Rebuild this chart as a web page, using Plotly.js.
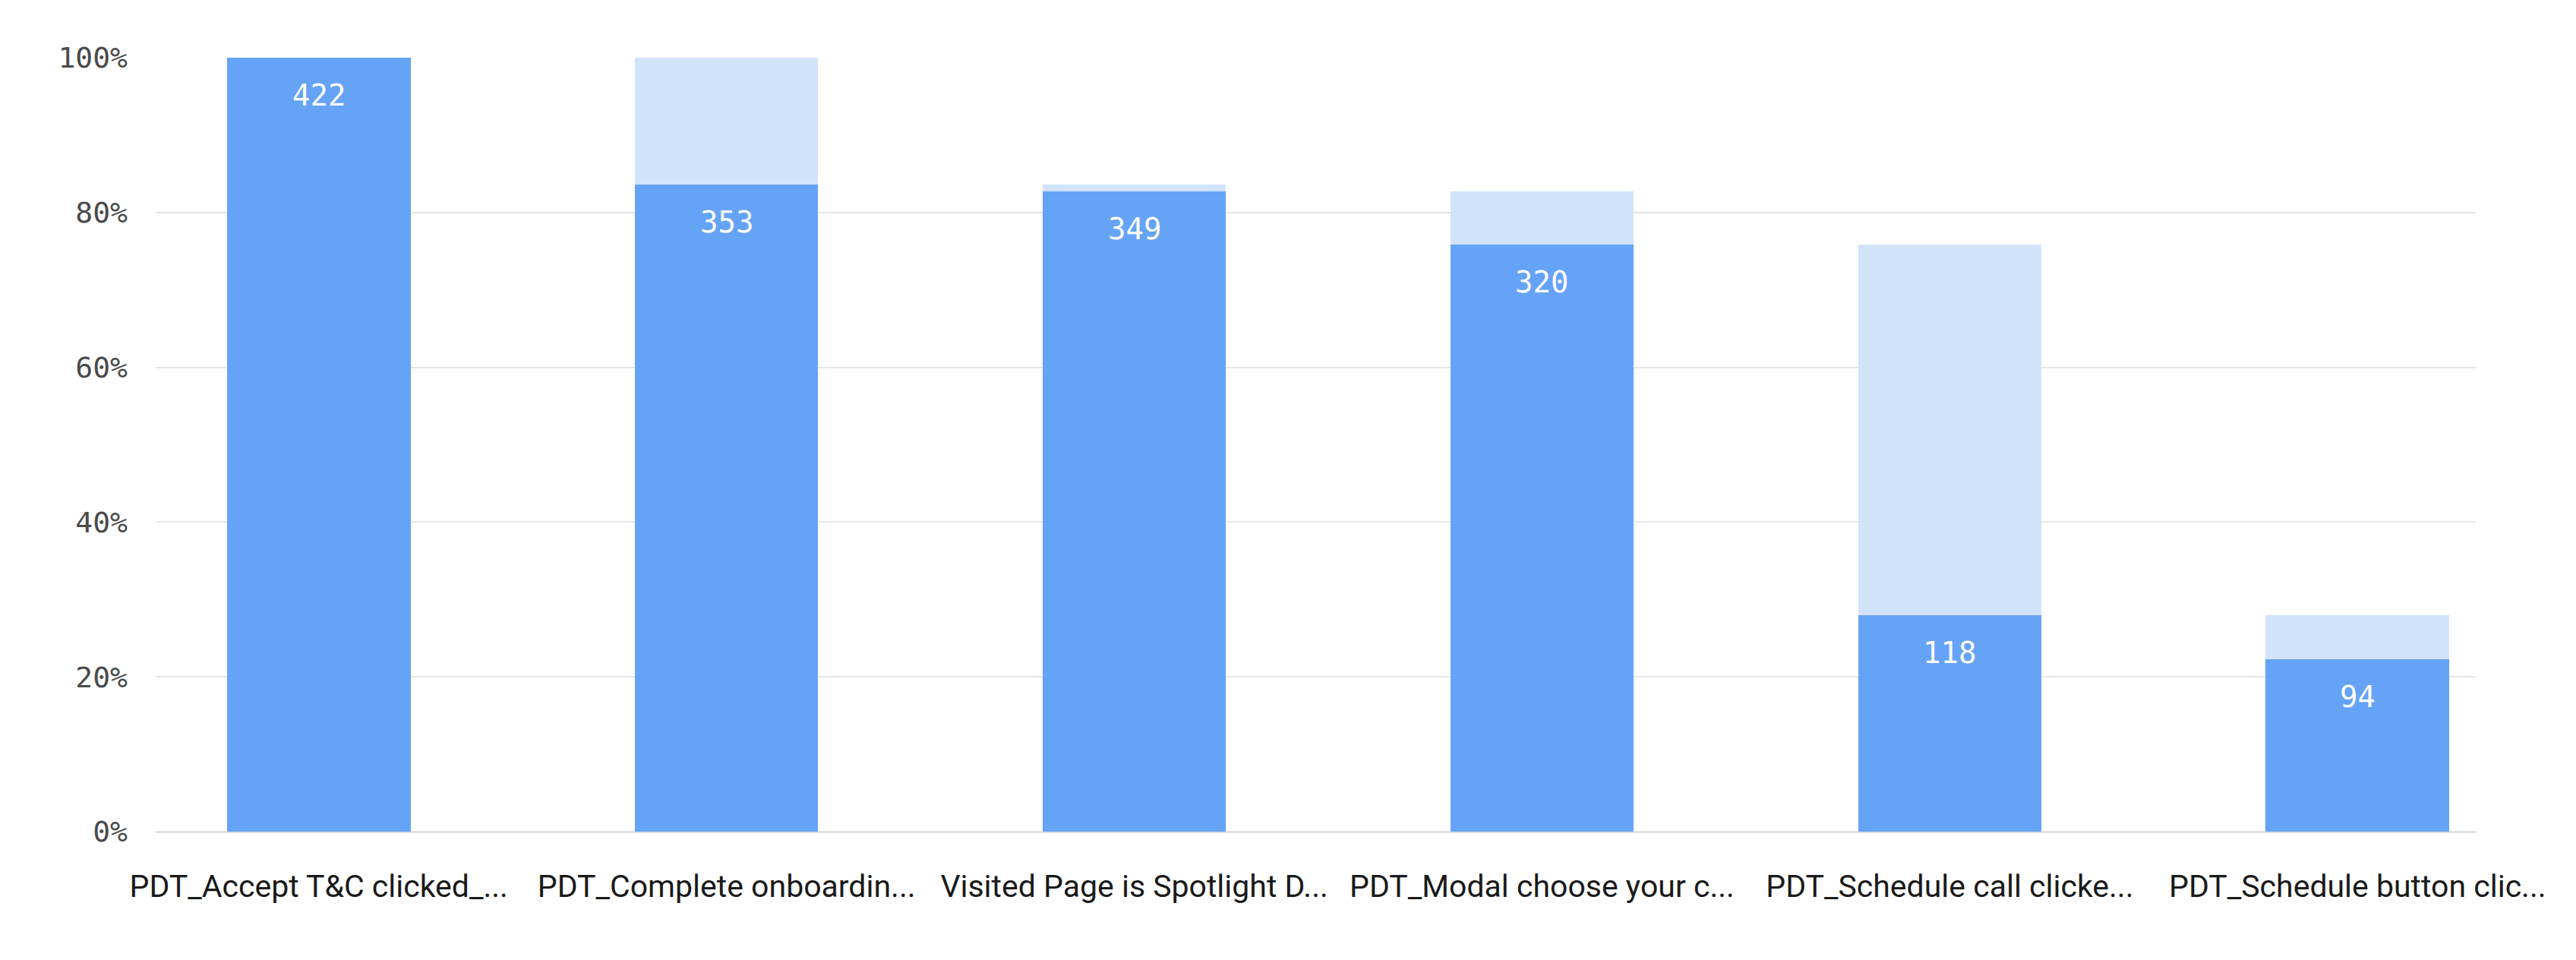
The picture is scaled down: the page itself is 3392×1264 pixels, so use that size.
<!DOCTYPE html>
<html>
<head>
<meta charset="utf-8">
<script src="https://cdn.plot.ly/plotly-3.0.1.min.js"></script>
<style>
html,body{margin:0;padding:0;background:#fff;}
#chart{width:3392px;height:1264px;}
</style>
</head>
<body>
<div id="chart"></div>
<script>
const steps = [
  "PDT_Accept T&C clicked_...",
  "PDT_Complete onboardin...",
  "Visited Page is Spotlight D...",
  "PDT_Modal choose your c...",
  "PDT_Schedule call clicke...",
  "PDT_Schedule button clic..."
];
const counts = [422, 353, 349, 320, 118, 94];
const yTickVals = [0, 20, 40, 60, 80, 100];
const yTickText = ["0%", "20%", "40%", "60%", "80%", "100%"];

const base = counts[0];
const convPct = counts.map(c => c / base * 100);
const prevPct = counts.map((c, i) => (i === 0 ? c : counts[i - 1]) / base * 100);
const dropPct = convPct.map((p, i) => prevPct[i] - p);

const traces = [
  {
    type: 'bar', x: steps, y: convPct,
    marker: {color: '#65a3f6'},
    hoverinfo: 'skip', name: 'Converted'
  },
  {
    type: 'bar', x: steps, y: dropPct,
    marker: {color: '#d2e3fc'},
    hoverinfo: 'skip', name: 'Dropped'
  }
];

const annotations = steps.map((s, i) => ({
  x: s, y: convPct[i], xref: 'x', yref: 'y',
  text: String(counts[i]), showarrow: false,
  yanchor: 'top', xanchor: 'center', yshift: -25,
  font: {family: 'DejaVu Sans Mono, monospace', size: 39, color: '#ffffff'}
}));

const layout = {
  width: 3392, height: 1264,
  margin: {l: 205, r: 132, t: 76, b: 169},
  paper_bgcolor: '#ffffff', plot_bgcolor: '#ffffff',
  barmode: 'stack', bargap: 0.55,
  showlegend: false,
  xaxis: {
    type: 'category', range: [-0.4, 5.29],
    showgrid: false, zeroline: false, showline: false,
    ticks: '', ticklabelstandoff: 44,
    tickfont: {family: 'Roboto, Arial, sans-serif', size: 41, color: '#1a1a1a'},
    fixedrange: true
  },
  yaxis: {
    range: [0, 100],
    tickvals: yTickVals, ticktext: yTickText,
    showgrid: true, gridcolor: '#e6e6e6', gridwidth: 2,
    zeroline: true, zerolinecolor: '#e0e0e0', zerolinewidth: 3,
    showline: false, ticks: '', ticklabelstandoff: 36,
    tickfont: {family: 'DejaVu Sans Mono, monospace', size: 38, color: '#4a4a4a'},
    fixedrange: true
  },
  annotations: annotations
};

Plotly.newPlot('chart', traces, layout, {displayModeBar: false, staticPlot: true});
</script>
</body>
</html>
